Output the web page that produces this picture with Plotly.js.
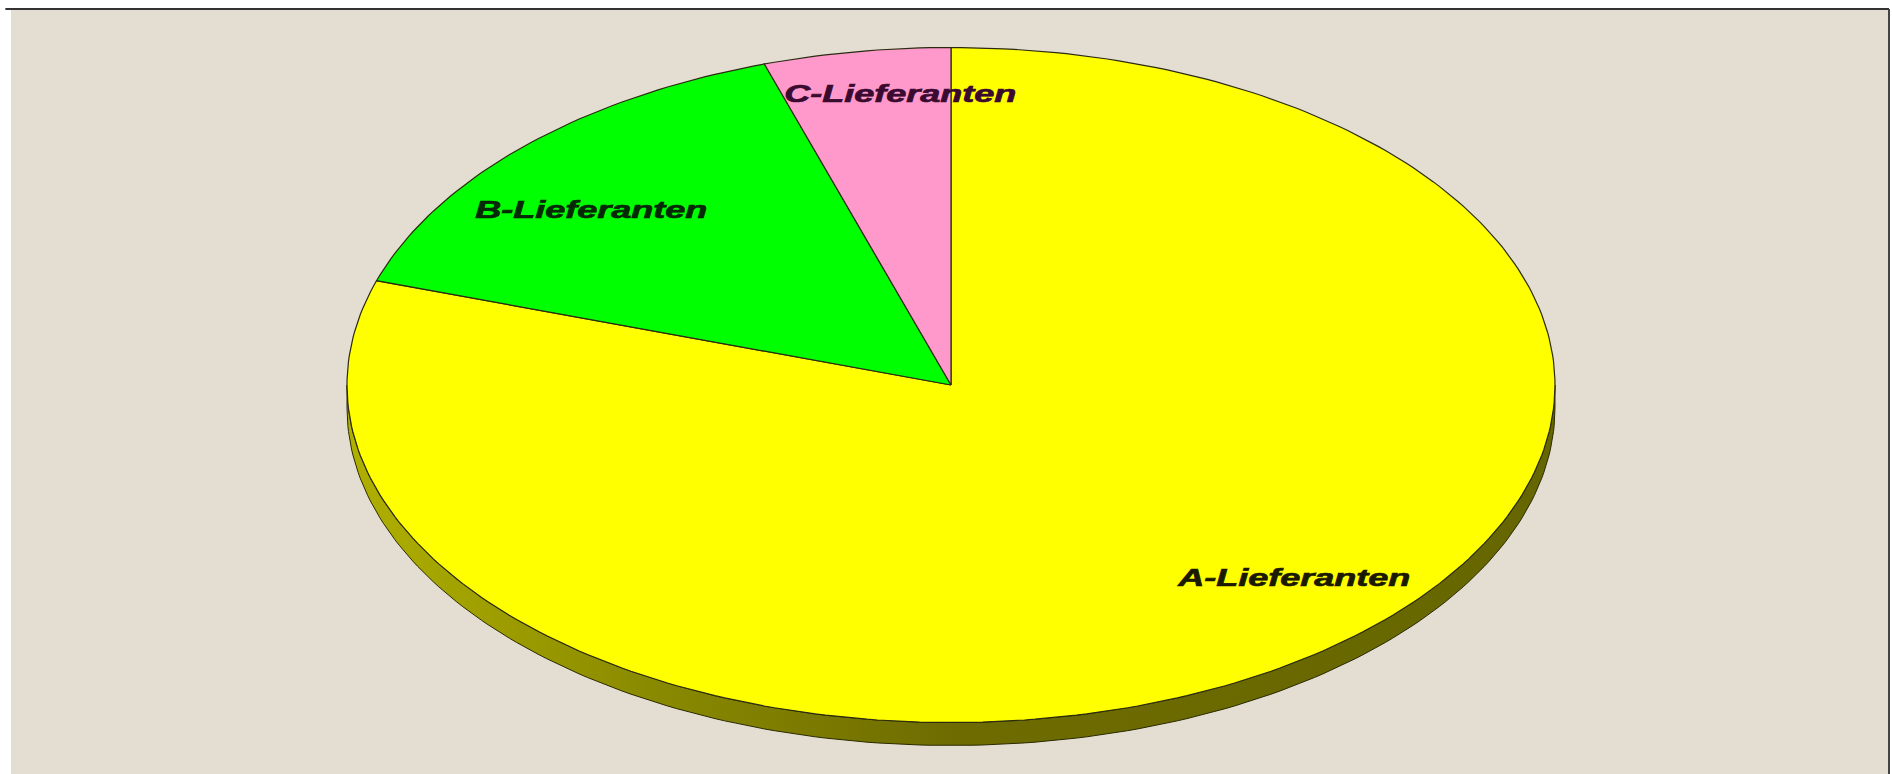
<!DOCTYPE html>
<html>
<head>
<meta charset="utf-8">
<script src="https://cdn.plot.ly/plotly-3.0.1.min.js"></script>
<style>
  html, body { margin: 0; padding: 0; background: #ffffff; }
  #chart { width: 1892px; height: 774px; }
</style>
</head>
<body>
<div id="chart"></div>
<script>
// ---- data ----
const categories = ['A-Lieferanten', 'B-Lieferanten', 'C-Lieferanten'];
const values = [80, 15, 5];

// ---- style ----
const sliceColors = ['#FFFF00', '#00FF00', '#FF99CC'];
const labelColors = ['#1a1a00', '#062806', '#3a0a30'];
// label anchor positions in the (unit-ellipse) axis space
const labelX = [0.568, -0.596, -0.084];
const labelY = [-0.569, 0.519, 0.865];
const depth = 0.068;          // 3D wall thickness in y units
const bg = '#e4ded2';

// axis ranges so that the unit circle appears as the reference ellipse
const xr = [-1.5563, 1.5530];
const yr = [-1.1467, 1.1141];

const total = values.reduce((a, b) => a + b, 0);
const traces = [];

// side wall (front half of the disc: from 3 o'clock clockwise to 9 o'clock)
(function () {
  const xs = [], ys = [];
  for (let d = 90; d <= 270; d += 1) {
    const t = d * Math.PI / 180;
    xs.push(Math.sin(t)); ys.push(Math.cos(t));
  }
  for (let d = 270; d >= 90; d -= 1) {
    const t = d * Math.PI / 180;
    xs.push(Math.sin(t)); ys.push(Math.cos(t) - depth);
  }
  xs.push(xs[0]); ys.push(ys[0]);
  traces.push({
    type: 'scatter', mode: 'lines', x: xs, y: ys, fill: 'toself',
    fillcolor: '#707000',
    fillgradient: { type: 'horizontal',
      colorscale: [[0, '#b0b000'], [0.25, '#8a8a00'], [0.5, '#6e6c00'], [1, '#666600']] },
    line: { color: '#2a2a00', width: 1 }, hoverinfo: 'skip', showlegend: false
  });
})();

// slices: start at 12 o'clock, clockwise
let start = 0;
values.forEach((v, i) => {
  const sweep = v / total * 360;
  const xs = [0], ys = [0];
  const n = Math.max(2, Math.ceil(sweep));
  for (let k = 0; k <= n; k++) {
    const t = (start + sweep * k / n) * Math.PI / 180;
    xs.push(Math.sin(t)); ys.push(Math.cos(t));
  }
  xs.push(0); ys.push(0);
  traces.push({
    type: 'scatter', mode: 'lines', x: xs, y: ys, fill: 'toself',
    fillcolor: sliceColors[i], name: categories[i],
    line: { color: '#2b2b10', width: 1.2 }, hoverinfo: 'name', showlegend: false
  });
  start += sweep;
});

const annotations = categories.map((c, i) => ({
  x: labelX[i], y: labelY[i], xref: 'x', yref: 'y', text: '<b><i>' + c + '</i></b>',
  showarrow: false, xanchor: 'center', yanchor: 'middle',
  font: { family: 'Liberation Sans, Arial, sans-serif', size: 24, color: labelColors[i] }
}));

const layout = {
  width: 1892, height: 774,
  margin: { l: 11, r: 3, t: 9, b: 0, pad: 0 },
  paper_bgcolor: '#ffffff',
  plot_bgcolor: bg,
  xaxis: { range: xr, visible: false, fixedrange: true },
  yaxis: { range: [-1.1526, 1.1141], visible: false, fixedrange: true },
  showlegend: false,
  annotations: annotations,
  shapes: [
    { type: 'line', xref: 'paper', yref: 'paper', x0: -0.003, x1: 1.0, y0: 1.0, y1: 1.0,
      line: { color: '#333333', width: 2 } },
    { type: 'line', xref: 'paper', yref: 'paper', x0: 1.0, x1: 1.0, y0: 0, y1: 1.0,
      line: { color: '#444444', width: 2 } }
  ]
};

Plotly.newPlot('chart', traces, layout, { displayModeBar: false, staticPlot: true }).then(gd => {
  // the reference lettering is horizontally stretched and heavy
  gd.querySelectorAll('.annotation-text').forEach(t => {
    const len = t.getComputedTextLength();
    t.setAttribute('textLength', (len * 1.5).toFixed(1));
    t.setAttribute('lengthAdjust', 'spacingAndGlyphs');
    t.style.stroke = t.style.fill;
    t.style.strokeWidth = '0.7px';
  });
});
</script>
</body>
</html>
